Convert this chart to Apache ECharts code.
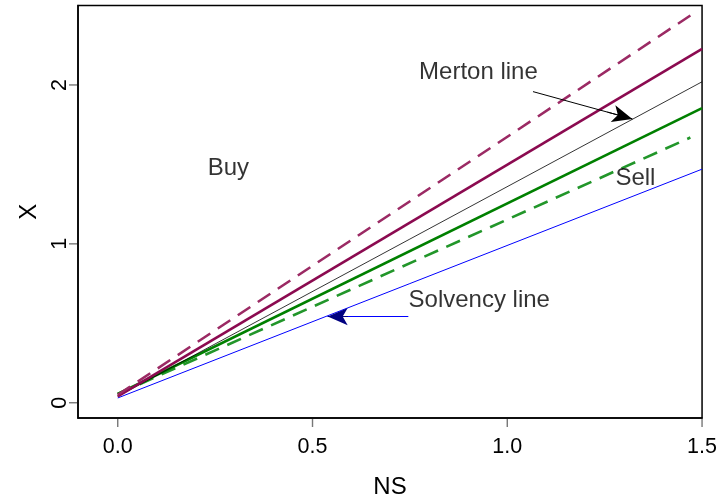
<!DOCTYPE html>
<html><head><meta charset="utf-8">
<script src="https://cdn.jsdelivr.net/npm/echarts@6/dist/echarts.min.js"></script>
<style>html,body{margin:0;padding:0;background:#fff}#c{width:720px;height:504px}</style>
</head><body><div id="c"></div>
<script>
// Data
const xTicks = [0.0, 0.5, 1.0, 1.5];
const yTicks = [0, 1, 2];
const xRange = [-0.102, 1.5];
const yRange = [-0.096, 2.5];
const upperDashed = [[0.0, 0.05], [1.47, 2.437]];
const upperSolid  = [[0.0, 0.04], [1.5, 2.227]];
const mertonLine  = [[0.0, 0.04], [1.5, 2.02]];
const lowerSolid  = [[0.0, 0.055], [1.5, 1.854]];
const lowerDashed = [[0.0, 0.055], [1.47, 1.669]];
const solvencyLine= [[0.0, 0.03], [1.5, 1.47]];
const labelText = ["Merton line", "Buy", "Sell", "Solvency line"];
const labelX    = [0.926, 0.284, 1.329, 0.928];
const labelY    = [2.076, 1.478, 1.415, 0.646];
const mertonArrow   = [[1.066, 1.958], [1.321, 1.786]];
const solvencyArrow = [[0.746, 0.542], [0.539, 0.542]];

const font = "'Liberation Sans', Arial, Helvetica, sans-serif";
const chart = echarts.init(document.getElementById('c'), null, {renderer: 'canvas'});

function lineSeries(data, color, width, type) {
  return {type: 'line', data: data, showSymbol: false, symbol: 'none', silent: true,
    lineStyle: {color: color, width: width, type: type}, animation: false, z: 2};
}

const annotations = labelText.map((t, i) => ({value: [labelX[i], labelY[i]], name: t}));

chart.setOption({
  animation: false,
  grid: {left: 78, top: 5.5, right: 15, bottom: 86, show: true, borderColor: '#000', borderWidth: 1.5, backgroundColor: 'transparent'},
  xAxis: {type: 'value', min: xRange[0], max: xRange[1], splitLine: {show: false},
    axisLine: {show: true, onZero: false, lineStyle: {color: '#000', width: 1.5}},
    axisTick: {show: false},
    axisLabel: {customValues: xTicks, formatter: v => v.toFixed(1), color: '#000', fontSize: 21.5, fontFamily: font, margin: 18},
    name: 'NS', nameLocation: 'middle', nameGap: 57,
    nameTextStyle: {fontSize: 24, fontFamily: font, color: '#000'}},
  yAxis: {type: 'value', min: yRange[0], max: yRange[1], splitLine: {show: false},
    axisLine: {show: true, onZero: false, lineStyle: {color: '#000', width: 1.5}},
    axisTick: {show: false},
    axisLabel: {customValues: yTicks, formatter: v => String(v), rotate: 90, color: '#000', fontSize: 21.5, fontFamily: font, margin: 7},
    name: 'X', nameLocation: 'middle', nameGap: 33, nameRotate: 90,
    nameTextStyle: {fontSize: 24, fontFamily: font, color: '#000'}},
  series: [
    lineSeries(solvencyLine, '#0000ff', 1, 'solid'),
    lineSeries(lowerDashed, '#22962a', 2.6, [15, 9]),
    lineSeries(lowerSolid, '#008000', 2.6, 'solid'),
    lineSeries(mertonLine, '#000000', 0.8, 'solid'),
    lineSeries(upperSolid, '#8b0a50', 2.6, 'solid'),
    lineSeries(upperDashed, '#9b2a64', 2.6, [15, 9]),
    {type: 'scatter', data: annotations, symbolSize: 0, silent: true, z: 5,
      label: {show: true, position: 'inside', formatter: p => p.name, color: '#000', textBorderWidth: 0, fontSize: 24, fontFamily: font}},
    // tick marks, placed on the axes' own scales
    {type: 'scatter', silent: true, clip: false, z: 6, symbol: 'rect', symbolSize: [1.4, 8], symbolOffset: [0, 5],
      itemStyle: {color: '#555'}, data: xTicks.map(v => [v, yRange[0]])},
    {type: 'scatter', silent: true, clip: false, z: 6, symbol: 'rect', symbolSize: [8, 1.4], symbolOffset: [-5, 0],
      itemStyle: {color: '#555'}, data: yTicks.map(v => [xRange[0], v])},
    {type: 'line', data: [], silent: true,
      markLine: {silent: true, animation: false, label: {show: false}, symbol: ['none', 'none'],
        data: [
          [{coord: mertonArrow[0], lineStyle: {color: '#000', width: 1, type: 'solid'}}, {coord: mertonArrow[1]}],
          [{coord: solvencyArrow[0], lineStyle: {color: '#0000ff', width: 1, type: 'solid'}}, {coord: solvencyArrow[1]}]
        ]}},
    {type: 'line', data: [], silent: true,
      markLine: {silent: true, animation: false, label: {show: false}, symbol: ['none', 'arrow'], symbolSize: [13, 20],
        data: [
          [{coord: [(mertonArrow[0][0] + 3 * mertonArrow[1][0]) / 4, (mertonArrow[0][1] + 3 * mertonArrow[1][1]) / 4], lineStyle: {color: '#000', width: 1, type: 'solid'}}, {coord: mertonArrow[1]}],
          [{coord: [(solvencyArrow[0][0] + 3 * solvencyArrow[1][0]) / 4, solvencyArrow[0][1]], lineStyle: {color: '#000080', width: 1, type: 'solid'}}, {coord: solvencyArrow[1]}]
        ]}}
  ]
});
</script></body></html>
